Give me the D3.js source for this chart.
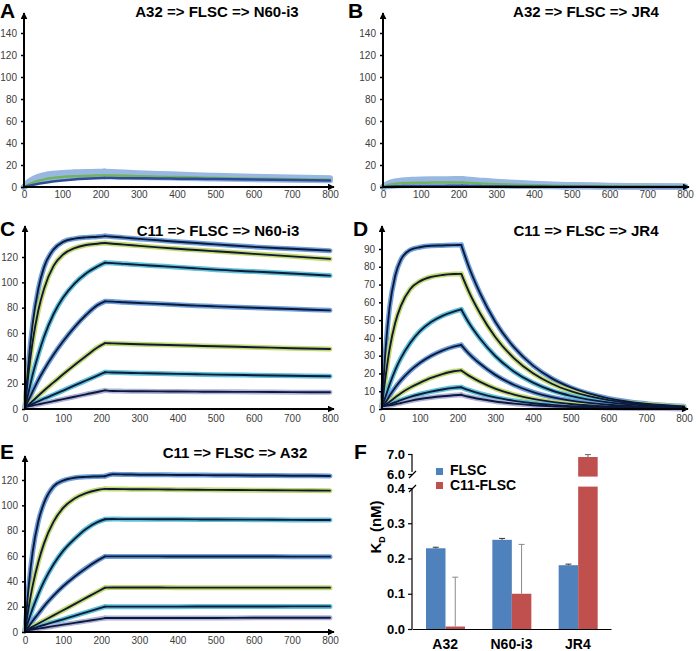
<!DOCTYPE html>
<html><head><meta charset="utf-8">
<script src="https://cdn.jsdelivr.net/npm/d3@7"></script>
<style>body{margin:0;background:#fff}svg{display:block}</style>
</head><body>
<svg id="chart" width="696" height="651"></svg>
<script>
// ---------- DATA ----------
const times = [0,10,20,35,50,75,100,130,160,190,210,230,260,300,350,400,450,500,600,700,800];
const xTicks = [0,100,200,300,400,500,600,700,800];
const yTicksAB = [0,20,40,60,80,100,120,140];
const yTicksC = [0,20,40,60,80,100,120];
const yTicksD = [0,10,20,30,40,50,60,70,80,90];
const yTicksE = [0,20,40,60,80,100,120];

const seriesA = [
  [0,4,6.5,9,10.5,12,12.8,13.3,13.6,13.8,14, 13.7,13.2,12.6,11.9,11.3,10.7,10.2,9.3,8.6,8],
  [0,3.5,5.8,8.2,9.6,11,11.8,12.3,12.6,12.8,13, 12.7,12.2,11.6,11,10.4,9.9,9.4,8.6,7.9,7.4],
  [0,3,5.2,7.4,8.8,10.2,11,11.5,11.8,12,12.1, 11.8,11.4,10.9,10.3,9.8,9.3,8.9,8.1,7.5,7],
  [0,2.6,4.6,6.6,7.9,9.2,10,10.5,10.8,11,11.1, 10.8,10.4,10,9.5,9,8.6,8.2,7.5,7,6.6],
  [0,2.2,3.9,5.7,6.9,8.2,9,9.5,9.8,10,10.1, 9.9,9.6,9.2,8.8,8.4,8,7.7,7.1,6.6,6.2],
  [0,2,3.6,5.4,6.7,8.1,9,9.7,10.1,10.4,10.5, 10.4,10.2,9.8,9.4,9,8.6,8.2,7.6,7,6.5],
  [0,0.9,1.7,2.8,3.7,5,6,6.9,7.5,7.9,8.1, 8.1,8,7.9,7.8,7.6,7.4,7.2,6.8,6.4,6]
];
const seriesB = [
  [0,2.5,4,5.3,6,6.5,6.8,7,7.1,7.2,7.3, 6.6,5.8,4.8,3.8,3,2.3,1.8,1.1,0.7,0.4],
  [0,2.1,3.4,4.5,5.1,5.6,5.8,6,6.1,6.2,6.2, 5.6,4.9,4.1,3.2,2.5,1.9,1.5,0.9,0.6,0.3],
  [0,1.7,2.8,3.7,4.2,4.6,4.8,5,5,5.1,5.1, 4.6,4,3.3,2.6,2.1,1.6,1.2,0.8,0.5,0.3],
  [0,1,1.6,2.1,2.5,2.7,2.9,3,3,3.1,3.1, 2.8,2.4,2,1.6,1.2,0.9,0.7,0.4,0.3,0.2],
  [0,0.6,1,1.4,1.6,1.8,1.9,2,2,2,2.1, 1.9,1.6,1.3,1,0.8,0.6,0.5,0.3,0.2,0.1],
  [0,1.3,2.2,2.9,3.4,3.7,3.9,4,4.1,4.1,4.1, 3.7,3.2,2.6,2.1,1.6,1.2,0.9,0.6,0.4,0.2],
  [0,0.3,0.5,0.7,0.8,0.9,1,1,1,1.1,1.1, 1,0.8,0.7,0.5,0.4,0.3,0.2,0.1,0.1,0]
];
const seriesC = [
  [1.5,39,67,95,112,126,132,134.5,135.5,136,136.5, 136,135.3,134.3,133.2,132,131,130,128,126.5,125],
  [1.5,30,53,78,95,113,122,127,129.5,130.5,131, 130.5,129.8,128.8,127.6,126.5,125.5,124.5,122.5,120.5,118.5],
  [1.5,14,27,43,57,75,88,99,107,112.5,115.5, 115.2,114.6,113.8,112.9,112,111,110,108.5,107,105.3],
  [1.5,7.5,13.8,23,31,43,53.5,64.7,74.2,82,85, 84.8,84.3,83.7,83,82.3,81.6,81,79.9,78.9,77.9],
  [1.5,3.5,6.3,10.5,14.6,21,27.4,34.8,41.8,48.6,52, 51.8,51.5,51.1,50.7,50.3,49.9,49.5,48.8,48,47.4],
  [1.5,2.8,4.1,6.1,8.1,11.3,14.6,18.6,22.5,26.4,29, 28.8,28.6,28.3,28,27.7,27.4,27.1,26.7,26.2,25.8],
  [1.5,2.1,2.8,3.7,4.6,6.2,7.8,9.7,11.6,13.4,14.7, 14.2,14.1,14,13.9,13.8,13.7,13.6,13.5,13.3,13.2]
];
const seriesD = [
  [1.5,35,57,75,84,89.5,91,91.8,92,92.2,92.3, 80,65,49.1,34.6,24.4,17.2,12.1,6,3,1.5],
  [1.5,19,33.5,48.5,58,67.5,71.8,74.3,75.4,75.9,76, 66,53.7,40.5,28.5,20.1,14.2,10,5,2.5,1.2],
  [1.5,7.3,13.7,21.9,28.6,37.3,43.7,48.9,52.4,54.8,56, 48.5,39.5,29.8,21,14.8,10.4,7.4,3.7,1.9,1],
  [1.5,3.9,7.4,12.1,16.1,21.6,25.9,29.9,32.9,35.1,36, 31.2,25.4,19.2,13.5,9.5,6.7,4.7,2.4,1.2,0.6],
  [1.5,2.5,4.1,6.5,8.9,12.1,14.7,17.5,19.6,21.2,21.7, 18.8,15.3,11.5,8.1,5.7,4,2.8,1.4,0.8,0.4],
  [1.5,2,2.6,3.8,5,6.8,8.3,9.8,11,11.9,12.2, 10.6,8.6,6.5,4.6,3.2,2.3,1.6,0.8,0.4,0.2],
  [1.5,1.8,2.1,2.7,3.4,4.6,5.6,6.5,7.2,7.7,8, 6.9,5.6,4.2,3,2.1,1.5,1.1,0.6,0.3,0.2]
];
const seriesE = [
  [1,37,63,87.5,102,115,119.5,121.8,122.5,122.8,123, 124.5,124.4,124.2,124.1,124,123.9,123.8,123.6,123.4,123.2],
  [1,19.9,36.4,55.3,70,87.1,97.9,105.4,109.7,112.1,113, 112.9,112.8,112.7,112.6,112.4,112.3,112.2,112,111.8,111.6],
  [1,9.7,18.4,29.9,39.9,53.5,64.1,73.5,81.4,86.8,89, 89.2,89.1,89.1,89,89,88.9,88.8,88.7,88.5,88.4],
  [1,4.5,8.7,14.4,20.3,28.7,36.1,43.7,50.4,56.3,59.7, 59.7,59.7,59.7,59.7,59.6,59.6,59.6,59.6,59.5,59.5],
  [1,2.6,4.2,6.7,9.1,13.1,17.2,22,26.9,31.8,35, 35.1,35.1,35.1,35.1,35,35,35,35,35,35],
  [1,1.9,2.8,4.2,5.5,7.8,10,12.8,15.5,18.2,20, 20,20,20,20,20,20.1,20.1,20.1,20.2,20.2],
  [1,1.5,2,2.7,3.4,4.6,5.8,7.2,8.6,10,11, 11,11,11,11,11.1,11.1,11.1,11.2,11.2,11.2]
];

const categories = ["A32","N60-i3","JR4"];
const groups = ["FLSC","C11-FLSC"];
const kdFLSC = [0.229,0.253,0.181];
const kdFLSCerr = [0.003,0.004,0.003];
const kdC11 = [0.007,0.100,6.85];
const kdC11err = [0.140,0.140,0.12];
const lowTicks = [0,0.1,0.2,0.3,0.4];
const highTicks = [6,7];

// ---------- STYLE / LAYOUT ----------
const fitColor = "#0b1a3c";
const colorsCDE = ["#6f9fd9","#c6d86a","#5fc0d6","#6f9fd9","#c6d86a","#5fc0d6","#b0b2d8"];
const colorsAB = ["#98b8e2","#98b8e2","#98b8e2","#98b8e2","#98b8e2","#72b35c","#2f4c9a"];
const widthsAB = [6,6,6,6,6,2.5,2.5];
const tickFont = "'Liberation Sans', Arial, sans-serif";

const svg = d3.select("#chart");
const defs = svg.append("defs");
defs.append("marker").attr("id","arr").attr("viewBox","0 0 10 10")
  .attr("refX",9).attr("refY",5).attr("markerWidth",7).attr("markerHeight",7)
  .attr("markerUnits","userSpaceOnUse").attr("orient","auto")
  .append("path").attr("d","M0,0 L10,5 L0,10 z").attr("fill","#000");

const panels = [
  {letter:"A", title:"A32 => FLSC => N60-i3", data:seriesA, colors:colorsAB, widths:widthsAB, fit:false,
   x0:24, x1:330, y0:187, yv:140, ypx:33, top:13, yt:yTicksAB, lx:0, ly:18, tx:217, ty:17, xl:201},
  {letter:"B", title:"A32 => FLSC => JR4", data:seriesB, colors:colorsAB, widths:widthsAB, fit:false,
   x0:383, x1:685, y0:187, yv:140, ypx:33, top:13, yt:yTicksAB, lx:348, ly:18, tx:586, ty:17, xl:201},
  {letter:"C", title:"C11 => FLSC => N60-i3", data:seriesC, colors:colorsCDE, widths:null, fit:true,
   x0:25, x1:330, y0:409, yv:120, ypx:257, top:226, yt:yTicksC, lx:0, ly:236, tx:218, ty:236, xl:425},
  {letter:"D", title:"C11 => FLSC => JR4", data:seriesD, colors:colorsCDE, widths:null, fit:true,
   x0:382, x1:684, y0:409, yv:90, ypx:249, top:226, yt:yTicksD, lx:353, ly:236, tx:586, ty:236, xl:425},
  {letter:"E", title:"C11 => FLSC => A32", data:seriesE, colors:colorsCDE, widths:null, fit:true,
   x0:25, x1:330, y0:632, yv:120, ypx:480, top:456, yt:yTicksE, lx:0, ly:459, tx:235, ty:458, xl:647}
];

panels.forEach(p => {
  const g = svg.append("g");
  const x = d3.scaleLinear().domain([0,800]).range([p.x0,p.x1]);
  const y = d3.scaleLinear().domain([0,p.yv]).range([p.y0,p.ypx]);
  const line = d3.line().x(d=>x(d[0])).y(d=>y(d[1])).curve(d3.curveMonotoneX);
  const pts = s => times.map((t,i)=>[t,s[i]]);
  const draw = (s, c, w) => {
    const pp = pts(s);
    [pp.slice(0,11), pp.slice(10)].forEach(seg => {
      g.append("path").attr("d", line(seg)).attr("fill","none")
        .attr("stroke",c).attr("stroke-width",w).attr("stroke-linejoin","round").attr("stroke-linecap","round");
    });
  };
  p.data.forEach((s,i) => draw(s, p.colors[i], p.widths ? p.widths[i] : 5));
  if (p.fit) p.data.forEach(s => draw(s, fitColor, 1.9));

  // y axis
  const ya = d3.axisLeft(y).tickValues(p.yt).tickSize(3).tickSizeOuter(0).tickPadding(4);
  const yg = g.append("g").attr("transform",`translate(${p.x0},0)`).call(ya);
  yg.select(".domain").remove();
  yg.selectAll("line").attr("stroke","#000").attr("stroke-width",1.5);
  yg.selectAll("text").attr("font-family",tickFont).attr("font-size",10).attr("fill","#404040");
  // x axis labels
  const xa = d3.axisBottom(x).tickValues(xTicks).tickSize(0).tickPadding(0);
  const xg = g.append("g").attr("transform",`translate(0,${p.xl-10})`).call(xa);
  xg.select(".domain").remove();
  xg.selectAll("text").attr("font-family",tickFont).attr("font-size",10).attr("fill","#404040").attr("dy","0.71em");
  // axis lines with arrows
  g.append("line").attr("x1",p.x0).attr("x2",p.x0).attr("y1",p.y0+1).attr("y2",p.top)
    .attr("stroke","#000").attr("stroke-width",2).attr("marker-end","url(#arr)");
  g.append("line").attr("x1",p.x0-1).attr("x2",p.x1+4).attr("y1",p.y0).attr("y2",p.y0)
    .attr("stroke","#000").attr("stroke-width",2).attr("marker-end","url(#arr)");
  // letter & title
  g.append("text").attr("x",p.lx).attr("y",p.ly).text(p.letter)
    .attr("font-family","'Liberation Sans', Arial, sans-serif").attr("font-weight","bold").attr("font-size",21);
  g.append("text").attr("x",p.tx).attr("y",p.ty).attr("text-anchor","middle").text(p.title)
    .attr("font-family","'Liberation Sans', Arial, sans-serif").attr("font-weight","bold").attr("font-size",15);
});

// ---------- PANEL F ----------
(function(){
  const g = svg.append("g");
  const bold = "'Liberation Sans', Arial, sans-serif";
  const xb = d3.scaleBand().domain(categories).range([412,611]);
  const xs = d3.scaleBand().domain(groups).range([14,53]);
  const yLow = d3.scaleLinear().domain([0,0.4]).range([629,488]);
  const yHigh = d3.scaleLinear().domain([6,7]).range([474,454]);
  const blue = "#4f81bd", red = "#c0504d";
  const lowCap = 0.404, highStart = 5.87;

  categories.forEach((c,i) => {
    const bx = xb(c) + xs("FLSC"), bw = xs.bandwidth();
    g.append("rect").attr("x",bx).attr("width",bw).attr("y",yLow(kdFLSC[i])).attr("height",yLow(0)-yLow(kdFLSC[i])).attr("fill",blue);
    const cx = bx + bw/2;
    const et = yLow(kdFLSC[i]+kdFLSCerr[i]);
    g.append("line").attr("x1",cx).attr("x2",cx).attr("y1",yLow(kdFLSC[i])).attr("y2",et).attr("stroke","#333").attr("stroke-width",1);
    g.append("line").attr("x1",cx-3).attr("x2",cx+3).attr("y1",et).attr("y2",et).attr("stroke","#333").attr("stroke-width",1);

    const rx = xb(c) + xs("C11-FLSC");
    const v = kdC11[i];
    const lowTop = Math.min(v, lowCap);
    g.append("rect").attr("x",rx).attr("width",bw).attr("y",yLow(lowTop)).attr("height",yLow(0)-yLow(lowTop)).attr("fill",red);
    const rc = rx + bw/2;
    if (v > lowCap) {
      g.append("rect").attr("x",rx).attr("width",bw).attr("y",yHigh(v)).attr("height",yHigh(highStart)-yHigh(v)).attr("fill",red);
      const t = yHigh(v+kdC11err[i]);
      g.append("line").attr("x1",rc).attr("x2",rc).attr("y1",yHigh(v)).attr("y2",t).attr("stroke","#666").attr("stroke-width",1);
      g.append("line").attr("x1",rc-3).attr("x2",rc+3).attr("y1",t).attr("y2",t).attr("stroke","#666").attr("stroke-width",1);
    } else {
      const t = yLow(v+kdC11err[i]);
      g.append("line").attr("x1",rc).attr("x2",rc).attr("y1",yLow(v)).attr("y2",t).attr("stroke","#8a8a8a").attr("stroke-width",1);
      g.append("line").attr("x1",rc-3).attr("x2",rc+3).attr("y1",t).attr("y2",t).attr("stroke","#8a8a8a").attr("stroke-width",1);
    }
  });

  const fmt = d3.format(".1f");
  const yl = g.append("g").attr("transform","translate(412,0)")
    .call(d3.axisLeft(yLow).tickValues(lowTicks).tickFormat(fmt).tickSize(4).tickSizeOuter(0).tickPadding(3));
  const yh = g.append("g").attr("transform","translate(412,0)")
    .call(d3.axisLeft(yHigh).tickValues(highTicks).tickFormat(fmt).tickSize(4).tickSizeOuter(0).tickPadding(3));
  [yl,yh].forEach(a => {
    a.select(".domain").remove();
    a.selectAll("line").attr("stroke","#000").attr("stroke-width",1.2);
    a.selectAll("text").attr("font-family",bold).attr("font-weight","bold").attr("font-size",13).attr("fill","#000");
  });
  g.append("line").attr("x1",412).attr("x2",412).attr("y1",629).attr("y2",489).attr("stroke","#000").attr("stroke-width",1.2);
  g.append("line").attr("x1",412).attr("x2",412).attr("y1",454).attr("y2",472).attr("stroke","#000").attr("stroke-width",1.2);
  g.append("line").attr("x1",409).attr("x2",416).attr("y1",478).attr("y2",471).attr("stroke","#000").attr("stroke-width",1.2);
  g.append("line").attr("x1",409).attr("x2",416).attr("y1",492).attr("y2",485).attr("stroke","#000").attr("stroke-width",1.2);

  const xa = g.append("g").attr("transform","translate(0,629)")
    .call(d3.axisBottom(xb).tickSize(0).tickPadding(10));
  xa.select(".domain").attr("stroke","#000").attr("stroke-width",1.2);
  xa.selectAll("text").attr("font-family",bold).attr("font-weight","bold").attr("font-size",14).attr("fill","#000");

  const lab = g.append("text").attr("transform","translate(381,527) rotate(-90)").attr("text-anchor","middle")
    .attr("font-family",bold).attr("font-weight","bold").attr("font-size",15);
  lab.append("tspan").text("K");
  lab.append("tspan").text("D").attr("font-size",9).attr("dy",4);
  lab.append("tspan").text(" (nM)").attr("dy",-4);

  const leg = [[groups[0],blue,468,475],[groups[1],red,482,490]];
  leg.forEach(([t,c,ry,ty]) => {
    g.append("rect").attr("x",436).attr("y",ry).attr("width",7).attr("height",7).attr("fill",c);
    g.append("text").attr("x",450).attr("y",ty).text(t).attr("font-family",bold).attr("font-weight","bold").attr("font-size",14);
  });

  g.append("text").attr("x",354).attr("y",459).text("F")
    .attr("font-family",bold).attr("font-weight","bold").attr("font-size",21);
})();
</script>
</body></html>
